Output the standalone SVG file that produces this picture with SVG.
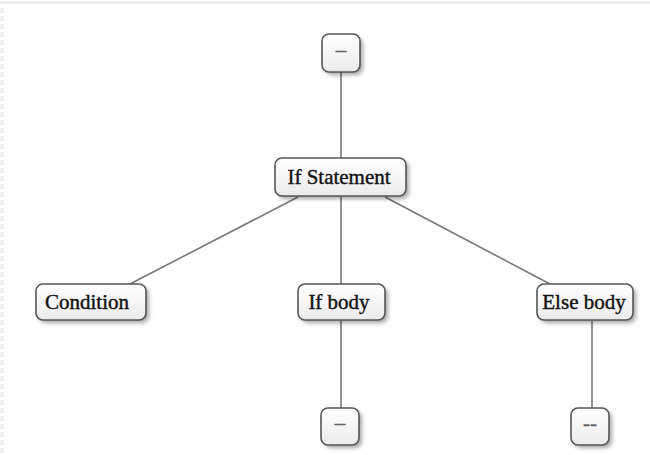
<svg xmlns="http://www.w3.org/2000/svg" width="650" height="455" viewBox="0 0 650 455">
<style>
.n rect.b{fill:url(#g);stroke:#555;stroke-width:1.6}
.n rect.s{fill:#000;opacity:0.35;filter:url(#blur)}
.n text{font-family:"Liberation Serif","Times New Roman",serif;font-size:21px;fill:#111;stroke:#111;stroke-width:0.4;text-anchor:middle;dominant-baseline:central}
.n text.d{fill:#666;stroke:#666}
.c line{stroke:#777;stroke-width:1.6}
</style>
<defs>
<linearGradient id="g" x1="0" y1="0" x2="0" y2="1"><stop offset="0" stop-color="#ffffff"/><stop offset="1" stop-color="#ebebeb"/></linearGradient>
<filter id="blur" x="-30%" y="-30%" width="160%" height="160%"><feGaussianBlur stdDeviation="2"/></filter>
</defs>
<rect width="650" height="455" fill="#fff"/>
<line x1="0" y1="2.5" x2="650" y2="2.5" stroke="#f0f0f0" stroke-width="3"/>
<line x1="2" y1="8" x2="2" y2="455" stroke="#eee" stroke-width="4" stroke-dasharray="5,3"/>
<g class="c" id="connectors">
<line x1="341" y1="72" x2="341" y2="158"/>
<line x1="298" y1="197" x2="130" y2="284"/>
<line x1="341" y1="197" x2="341" y2="284"/>
<line x1="385" y1="197" x2="550" y2="284"/>
<line x1="341" y1="321" x2="341" y2="409"/>
<line x1="592" y1="321" x2="592" y2="409"/>
</g>
<g class="n" id="n-top"><rect class="s" x="325" y="37" width="38" height="38" rx="7"/><rect class="b" x="322" y="34" width="38" height="38" rx="7"/><text class="d" x="341" y="50">–</text></g>
<g class="n" id="n-if"><rect class="s" x="278" y="161" width="131" height="38" rx="7"/><rect class="b" x="275" y="158" width="131" height="38" rx="7"/><text x="339" y="177">If Statement</text></g>
<g class="n" id="n-cond"><rect class="s" x="39" y="287" width="110" height="36" rx="7"/><rect class="b" x="36" y="284" width="110" height="36" rx="7"/><text x="87" y="302">Condition</text></g>
<g class="n" id="n-ifbody"><rect class="s" x="301" y="287" width="87" height="36" rx="7"/><rect class="b" x="298" y="284" width="87" height="36" rx="7"/><text x="339" y="302">If body</text></g>
<g class="n" id="n-else"><rect class="s" x="540" y="287" width="96" height="36" rx="7"/><rect class="b" x="537" y="284" width="96" height="36" rx="7"/><text x="584" y="302">Else body</text></g>
<g class="n" id="n-bot1"><rect class="s" x="324" y="411" width="38" height="37" rx="7"/><rect class="b" x="321" y="408" width="38" height="37" rx="7"/><text class="d" x="340" y="423">–</text></g>
<g class="n" id="n-bot2"><rect class="s" x="574" y="411" width="38" height="37" rx="7"/><rect class="b" x="571" y="408" width="38" height="37" rx="7"/><text class="d" x="590" y="423">--</text></g>
</svg>
